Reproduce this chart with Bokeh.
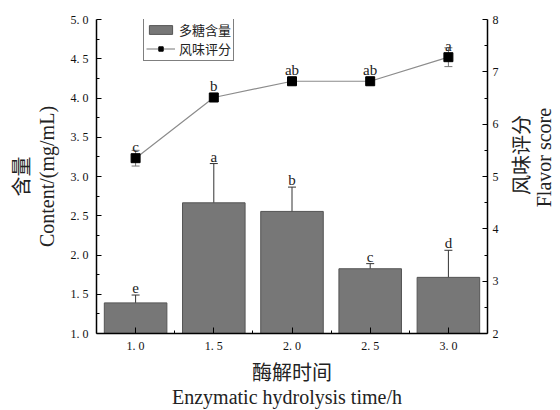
import math
from bokeh.plotting import figure
from bokeh.layouts import row
from bokeh.models import (Range1d, LinearAxis, FixedTicker, Whisker, ColumnDataSource,
                          Legend, LegendItem, CustomJSTickFormatter)
from bokeh.core.properties import value
from bokeh.embed import file_html
from bokeh.resources import INLINE

# hydrolysis time (h)
times = [1.0, 1.5, 2.0, 2.5, 3.0]
# polysaccharide content (mg/mL) and its error
content = [1.39, 2.665, 2.555, 1.825, 1.715]
content_err = [0.10, 0.50, 0.31, 0.065, 0.345]
content_letters = ["e", "a", "b", "c", "d"]
# flavor score and its error
flavor = [5.35, 6.51, 6.82, 6.82, 7.28]
flavor_err = [0.15, 0.08, 0.08, 0.08, 0.18]
flavor_letters = ["c", "b", "ab", "ab", "a"]
# right-hand axis title lines
right_title = ["风味评分", "Flavor  score"]

SERIF = "'Liberation Serif', 'Noto Sans CJK SC'"

src = ColumnDataSource(dict(
    t=times, c=content,
    c_lo=[v - e for v, e in zip(content, content_err)],
    c_hi=[v + e for v, e in zip(content, content_err)],
    c_lab=content_letters,
    f=flavor,
    f_lo=[v - e for v, e in zip(flavor, flavor_err)],
    f_hi=[v + e for v, e in zip(flavor, flavor_err)],
    f_lab=flavor_letters,
))

p = figure(width=510, height=410, output_backend="svg", toolbar_location=None,
           x_range=Range1d(0.75, 3.25), y_range=Range1d(1.0, 5.0),
           min_border_left=96, min_border_right=23, min_border_top=19, min_border_bottom=76)
p.outline_line_color = None
p.xgrid.visible = False
p.ygrid.visible = False
p.background_fill_color = "white"
p.border_fill_color = "white"

p.extra_y_ranges = {"flavor": Range1d(2, 8)}

# bars: polysaccharide content
bars = p.vbar(x="t", top="c", bottom=1.0, width=0.4, source=src,
              fill_color="#777777", line_color="#555555", line_width=1)
w1 = Whisker(base="t", lower="c_lo", upper="c_hi", source=src,
             line_color="#333333", line_width=1)
for head in (w1.upper_head, w1.lower_head):
    head.line_color = "#333333"
    head.size = 8
p.add_layout(w1)
p.text(x="t", y="c_hi", text="c_lab", source=src, text_align="center",
       text_baseline="middle", y_offset=-7, text_font=value(SERIF),
       text_font_size="15px", text_color="#222222")

# line: flavor score
w2 = Whisker(base="t", lower="f_lo", upper="f_hi", source=src, y_range_name="flavor",
             line_color="#777777", line_width=1)
for head in (w2.upper_head, w2.lower_head):
    head.line_color = "#777777"
    head.size = 8
p.add_layout(w2)
ln = p.line(x="t", y="f", source=src, y_range_name="flavor", line_color="#8c8c8c", line_width=1.2)
sq = p.scatter(x="t", y="f", source=src, y_range_name="flavor", marker="square",
               size=9, fill_color="black", line_color="black")
p.text(x="t", y="f", text="f_lab", source=src, y_range_name="flavor", text_align="center",
       text_baseline="middle", y_offset=-11, text_font=value(SERIF),
       text_font_size="15px", text_color="#222222")

# tick labels written as "1. 0"
spaced = CustomJSTickFormatter(code="return tick.toFixed(1).replace('.', '. ');")

# axes
def style_axis(ax):
    ax.axis_line_color = "black"
    ax.axis_line_width = 1.5
    ax.major_tick_line_color = "black"
    ax.minor_tick_line_color = "black"
    ax.major_tick_in = 5
    ax.major_tick_out = 0
    ax.minor_tick_in = 3
    ax.minor_tick_out = 0
    ax.major_label_text_font = SERIF
    ax.major_label_text_font_size = "12px"
    ax.major_label_text_color = "#111111"
    ax.axis_label_text_font = SERIF
    ax.axis_label_text_font_size = "20px"
    ax.axis_label_text_font_style = "normal"
    ax.axis_label_text_color = "#222222"
    ax.axis_label_text_line_height = 1.1

xa = p.xaxis[0]
xa.ticker = FixedTicker(ticks=times, minor_ticks=[1.25, 1.75, 2.25, 2.75])
xa.formatter = spaced
xa.axis_label = "酶解时间\nEnzymatic  hydrolysis  time/h"
style_axis(xa)
xa.major_tick_in = 6
xa.major_label_standoff = 5
xa.axis_label_standoff = 6

ya = p.yaxis[0]
ya.ticker = FixedTicker(ticks=[1.0, 1.5, 2.0, 2.5, 3.0, 3.5, 4.0, 4.5, 5.0],
                        minor_ticks=[1.25 + 0.5 * i for i in range(8)])
ya.formatter = spaced
ya.axis_label = "含量\nContent/(mg/mL)"
style_axis(ya)
ya.major_label_standoff = 8
ya.axis_label_standoff = 10

# right axis: ticks and numbers for the flavor score
ra = LinearAxis(y_range_name="flavor",
                ticker=FixedTicker(ticks=[2, 3, 4, 5, 6, 7, 8],
                                   minor_ticks=[2.5, 3.5, 4.5, 5.5, 6.5, 7.5]))
style_axis(ra)
ra.major_label_standoff = 5
p.add_layout(ra, "right")

legend = Legend(items=[LegendItem(label="多糖含量", renderers=[bars]),
                       LegendItem(label="风味评分", renderers=[ln, sq])],
                location=(47, 272), border_line_color="black", border_line_width=1,
                label_text_font=SERIF, label_text_font_size="13px",
                label_text_line_height=1.0,
                label_text_color="#222222", label_height=12,
                glyph_width=29, glyph_height=11, padding=2, spacing=0,
                label_standoff=4, margin=0, background_fill_alpha=1)
p.add_layout(legend)

# narrow strip to the right holding the right-hand axis title, reading upward
side = figure(width=50, height=410, output_backend="svg", toolbar_location=None,
              x_range=Range1d(0, 50), y_range=Range1d(0, 410),
              x_axis_type=None, y_axis_type=None, min_border=0)
side.outline_line_color = None
side.xgrid.visible = False
side.ygrid.visible = False
side.text(x=[11, 33], y=[233, 233], text=right_title, angle=math.pi / 2,
          text_align="center", text_baseline="middle", text_font=value(SERIF),
          text_font_size="20px", text_color="#222222")

layout = row(p, side, spacing=0)

open("out.html", "w").write(file_html(layout, INLINE))
